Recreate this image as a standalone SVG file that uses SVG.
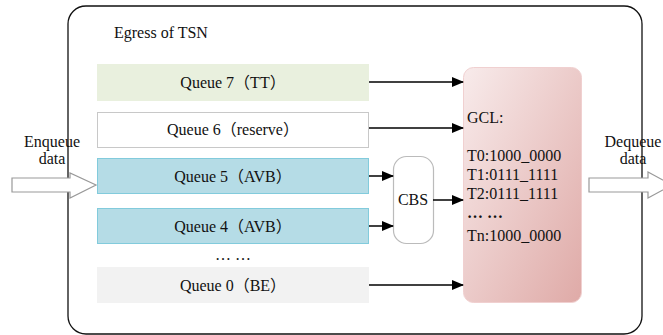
<svg xmlns="http://www.w3.org/2000/svg" width="663" height="335" viewBox="0 0 663 335">
<style>
text{font-family:"Liberation Serif","Noto Sans CJK SC",serif;font-size:16px;fill:#111}
.c{text-anchor:middle}
.conn line{stroke:#000;stroke-width:1.5;marker-end:url(#ah)}
.blk{fill:#fff;stroke:#999;stroke-width:1.2}
</style>
<defs>
<marker id="ah" markerWidth="12" markerHeight="10" refX="11" refY="5" orient="auto" markerUnits="userSpaceOnUse"><path d="M0,0 L12,5 L0,10 z" fill="#000"/></marker>
<linearGradient id="gcl" x1="0" y1="0" x2="1" y2="1"><stop offset="0" stop-color="#f8ebeb"/><stop offset="1" stop-color="#dfaaa7"/></linearGradient>
</defs>
<g id="egress">
<rect x="68" y="6" width="574" height="328" rx="18" fill="#fff" stroke="#111" stroke-width="1.3"/>
<text x="114" y="38">Egress of TSN</text>
</g>
<g id="enqueue">
<path class="blk" d="M12,178 H70 V173 L96,185 L70,198 V192 H12 Z"/>
<text class="c" x="52" y="147">Enqueue</text>
<text class="c" x="52" y="164">data</text>
</g>
<g id="dequeue">
<path class="blk" d="M589,178 H648 V172 L672,185 L648,198 V192 H589 Z"/>
<text class="c" x="633" y="147">Dequeue</text>
<text class="c" x="633" y="164">data</text>
</g>
<g id="q7"><rect x="97" y="64" width="272" height="37" fill="#e9f0de"/><text class="c" x="233" y="88">Queue 7（TT）</text></g>
<g id="q6"><rect x="97.5" y="112.5" width="271" height="35" fill="#fff" stroke="#c8c8c8"/><text class="c" x="233" y="135">Queue 6（reserve）</text></g>
<g id="q5"><rect x="97.5" y="158.5" width="271" height="35" fill="#b5dce6" stroke="#82cbdc"/><text class="c" x="233" y="182">Queue 5（AVB）</text></g>
<g id="q4"><rect x="97.5" y="208.5" width="271" height="35" fill="#b5dce6" stroke="#82cbdc"/><text class="c" x="233" y="232">Queue 4（AVB）</text></g>
<g id="dots"><text class="c" x="233" y="260">… …</text></g>
<g id="q0"><rect x="97" y="267" width="272" height="36" fill="#f2f2f2"/><text class="c" x="233" y="291">Queue 0（BE）</text></g>
<g id="cbs"><rect x="393.5" y="156.5" width="40" height="87" rx="13" fill="#fff" stroke="#bbb" stroke-width="1.2"/><text class="c" x="413" y="205">CBS</text></g>
<g id="gcl">
<rect x="463.5" y="67.5" width="118" height="235" rx="10" fill="url(#gcl)" stroke="#f0d0d0"/>
<text x="467" y="123">GCL:</text>
<text x="467" y="161">T0:1000_0000</text>
<text x="467" y="180">T1:0111_1111</text>
<text x="467" y="199">T2:0111_1111</text>
<text x="467" y="218" font-weight="bold">… …</text>
<text x="467" y="241">Tn:1000_0000</text>
</g>
<g class="conn">
<line x1="369" y1="82" x2="463" y2="82"/>
<line x1="369" y1="128" x2="463" y2="128"/>
<line x1="369" y1="176" x2="393" y2="176"/>
<line x1="369" y1="226" x2="393" y2="226"/>
<line x1="433" y1="200" x2="463" y2="200"/>
<line x1="369" y1="285" x2="463" y2="285"/>
</g>
</svg>
